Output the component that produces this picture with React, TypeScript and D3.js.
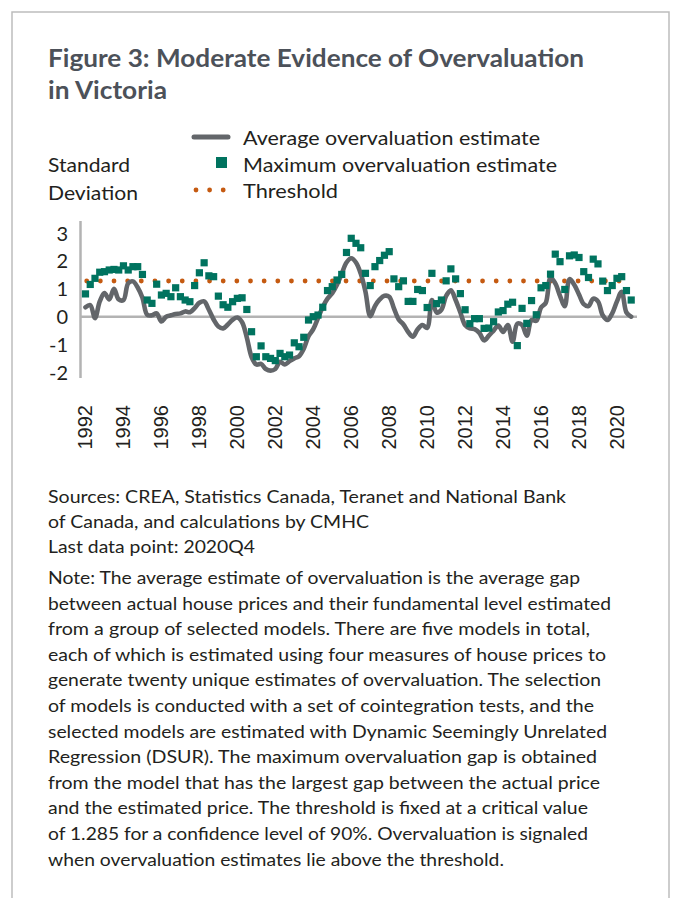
import React from "react";
import * as d3 from "d3";

// Quarterly data, 1992Q1 .. 2020Q4 (116 quarters)
const startYear = 1992;
const averageEstimate: number[] = [
  0.34, 0.42, -0.05, 0.55, 0.85, 0.62, 1.0, 0.62, 0.6, 1.2, 1.27, 1.05, 0.68, 0.07, 0.05, 0.12,
  -0.17, 0.0, 0.05, 0.1, 0.12, 0.19, 0.16, 0.31, 0.5, 0.55, 0.25, -0.1, -0.35, -0.42, -0.28, -0.11,
  -0.03, -0.2, -0.75, -1.45, -1.72, -1.7, -1.88, -1.94, -1.88, -1.62, -1.72, -1.6, -1.5, -1.42, -1.15, -0.7,
  -0.45, -0.05, 0.35, 0.65, 0.85, 1.15, 1.55, 1.95, 2.1, 1.95, 1.55, 0.9, 0.02, 0.38, 0.62, 0.75,
  0.72, 0.3, -0.1, -0.28, -0.55, -0.72, -0.45, -0.3, -0.4, 0.6, 0.15, 0.25, 0.75, 0.95, 0.6, 0.15,
  -0.3, -0.42, -0.45, -0.58, -0.85, -0.68, -0.5, -0.32, -0.55, -0.3, -0.9, -0.25, -0.3, -0.68, -0.12, -0.15,
  0.33, 0.5, 1.4, 1.2, 0.75, 0.38, 1.35, 1.15, 0.8, 0.45, 0.38, 0.65, 0.55, 0.05, -0.12, 0.12,
  0.55, 0.9, 0.15, 0.0,
];
const maximumEstimate: number[] = [
  0.82, 1.16, 1.38, 1.6, 1.62, 1.68, 1.7, 1.68, 1.83, 1.68, 1.8, 1.8, 1.52, 0.6, 0.48, 1.17,
  0.78, 0.84, 0.72, 1.04, 0.72, 0.6, 0.54, 1.12, 1.58, 1.94, 1.47, 1.44, 0.74, 0.43, 0.34, 0.54,
  0.66, 0.68, 0.26, -0.54, -1.44, -1.05, -1.44, -1.5, -1.58, -1.32, -1.44, -1.38, -0.94, -1.08, -0.74, -0.12,
  0.0, 0.06, 0.34, 0.94, 1.08, 1.32, 1.52, 2.31, 2.82, 2.64, 2.48, 1.56, 1.12, 1.8, 2.02, 2.21,
  2.34, 1.36, 1.08, 1.29, 0.55, 0.55, 0.98, 0.94, 0.33, 1.56, 0.47, 0.6, 1.29, 1.72, 1.36, 0.83,
  0.25, -0.25, -0.07, -0.07, -0.42, -0.41, -0.18, 0.17, 0.22, 0.45, 0.52, -1.04, 0.3, -0.24, 0.58, 0.07,
  1.04, 1.12, 1.53, 2.25, 1.98, 0.98, 2.19, 2.22, 2.13, 1.62, 1.41, 2.07, 1.9, 1.28, 0.94, 1.12,
  1.38, 1.44, 0.94, 0.6,
];
const threshold = 1.285;
const yTicks: number[] = [3, 2, 1, 0, -1, -2];
const yearTicks: number[] = [1992, 1994, 1996, 1998, 2000, 2002, 2004, 2006, 2008, 2010, 2012, 2014, 2016, 2018, 2020];

const titleLines = ["Figure 3: Moderate Evidence of Overvaluation", "in Victoria"];
const yTitleLines = ["Standard", "Deviation"];
const legendLabels = ["Average overvaluation estimate", "Maximum overvaluation estimate", "Threshold"];
const sourceLines = [
  "Sources: CREA, Statistics Canada, Teranet and National Bank",
  "of Canada, and calculations by CMHC",
  "Last data point: 2020Q4",
];
const noteLines = [
  "Note: The average estimate of overvaluation is the average gap",
  "between actual house prices and their fundamental level estimated",
  "from a group of selected models. There are five models in total,",
  "each of which is estimated using four measures of house prices to",
  "generate twenty unique estimates of overvaluation. The selection",
  "of models is conducted with a set of cointegration tests, and the",
  "selected models are estimated with Dynamic Seemingly Unrelated",
  "Regression (DSUR). The maximum overvaluation gap is obtained",
  "from the model that has the largest gap between the actual price",
  "and the estimated price. The threshold is fixed at a critical value",
  "of 1.285 for a confidence level of 90%. Overvaluation is signaled",
  "when overvaluation estimates lie above the threshold.",
];

// layout widths (px) used to fit text to the reference
const titleWidths = [536, 119];
const yTitleWidths = [82, 90];
const legendWidths = [297, 314, 95];
const sourceWidths = [518, 321, 207];
const noteWidths = [532, 563, 542, 558, 553, 546, 559, 549, 552, 540, 540, 456];

const FONT = "Lato, 'Open Sans', sans-serif";

export default function App() {
  const W = 674;
  const H = 898;
  const n = averageEstimate.length;
  const times = averageEstimate.map((_, i) => startYear + i / 4);

  const x = d3.scaleLinear().domain([1992, 2020.75]).range([85.5, 631.2]);
  const y = d3.scaleLinear().domain([-2, 3]).range([372.3, 233.3]);
  const yAxisTop = 221;
  const yAxisBottom = 378;

  const lineGen = d3
    .line<number>()
    .x((_, i) => x(times[i]))
    .y((d) => y(d))
    .curve(d3.curveCatmullRom.alpha(0.5));

  const sq = 7.2;
  const teal = "#00735f";
  const grey = "#63666a";
  const orange = "#c55a11";
  const ink = "#231f20";

  return (
    <svg width={W} height={H} style={{ display: "block", position: "absolute", left: 0, top: 0 }}>
      <rect x={0} y={0} width={W} height={H} fill="#ffffff" />
      {/* panel border */}
      <path d={`M12,${H + 5} V12 H669 V${H + 5}`} fill="none" stroke="#bdbdbd" strokeWidth={1.5} />

      {/* Title */}
      {titleLines.map((t, i) => (
        <text
          key={t}
          x={48}
          y={67 + i * 32}
          fontFamily={FONT}
          fontWeight={700}
          fontSize={24}
          fill="#4c5159"
          textLength={titleWidths[i]}
          lengthAdjust="spacingAndGlyphs"
        >
          {t}
        </text>
      ))}

      {/* Legend */}
      <line x1={194} x2={228} y1={137} y2={137} stroke={grey} strokeWidth={5} strokeLinecap="round" />
      <rect x={216} y={157} width={11} height={11} fill={teal} />
      {[0, 1, 2].map((k) => (
        <circle key={k} cx={196 + k * 13.6} cy={190} r={2.4} fill={orange} />
      ))}
      {legendLabels.map((t, i) => (
        <text
          key={t}
          x={243}
          y={145 + i * 26.5}
          fontFamily={FONT}
          fontSize={20}
          fill={ink}
          textLength={legendWidths[i]}
          lengthAdjust="spacingAndGlyphs"
        >
          {t}
        </text>
      ))}

      {/* y axis title */}
      {yTitleLines.map((t, i) => (
        <text
          key={t}
          x={48}
          y={172 + i * 27.5}
          fontFamily={FONT}
          fontSize={20}
          fill={ink}
          textLength={yTitleWidths[i]}
          lengthAdjust="spacingAndGlyphs"
        >
          {t}
        </text>
      ))}

      {/* y axis */}
      <line x1={80.5} x2={80.5} y1={yAxisTop} y2={yAxisBottom} stroke="#b3b3b3" strokeWidth={2.5} />
      {yTicks.map((v) => (
        <text
          key={v}
          x={68}
          y={y(v)}
          dy="0.36em"
          textAnchor="end"
          fontFamily={FONT}
          fontSize={20}
          fill={ink}
        >
          {v < 0 ? `-${Math.abs(v)}` : v}
        </text>
      ))}

      {/* zero line */}
      <line x1={80.5} x2={637} y1={y(0)} y2={y(0)} stroke="#b3b3b3" strokeWidth={2.5} />

      {/* x labels */}
      {yearTicks.map((yr) => (
        <text
          key={yr}
          transform={`translate(${x(yr) - 0.5},405) rotate(-90)`}
          textAnchor="end"
          dy="0.36em"
          fontFamily="'Liberation Sans', Arial, sans-serif"
          fontSize={20}
          fill={ink}
        >
          {yr}
        </text>
      ))}

      {/* threshold */}
      <line
        x1={x(times[0]) + 1.2}
        x2={x(times[n - 1])}
        y1={y(threshold)}
        y2={y(threshold)}
        stroke={orange}
        strokeWidth={4.8}
        strokeLinecap="round"
        strokeDasharray="0 13.65"
      />

      {/* average line */}
      <path
        d={lineGen(averageEstimate) ?? ""}
        fill="none"
        stroke={grey}
        strokeWidth={4.6}
        strokeLinejoin="round"
        strokeLinecap="round"
      />

      {/* maximum squares */}
      {maximumEstimate.map((v, i) => (
        <rect key={i} x={x(times[i]) - sq / 2} y={y(v) - sq / 2} width={sq} height={sq} fill={teal} />
      ))}

      {/* sources & note */}
      {sourceLines.map((t, i) => (
        <text
          key={t}
          x={48}
          y={503 + i * 24.8}
          fontFamily={FONT}
          fontSize={18}
          fill={ink}
          textLength={sourceWidths[i]}
          lengthAdjust="spacingAndGlyphs"
        >
          {t}
        </text>
      ))}
      {noteLines.map((t, i) => (
        <text
          key={t}
          x={48}
          y={584 + i * 25.6}
          fontFamily={FONT}
          fontSize={18}
          fill={ink}
          textLength={noteWidths[i]}
          lengthAdjust="spacingAndGlyphs"
        >
          {t}
        </text>
      ))}
    </svg>
  );
}
